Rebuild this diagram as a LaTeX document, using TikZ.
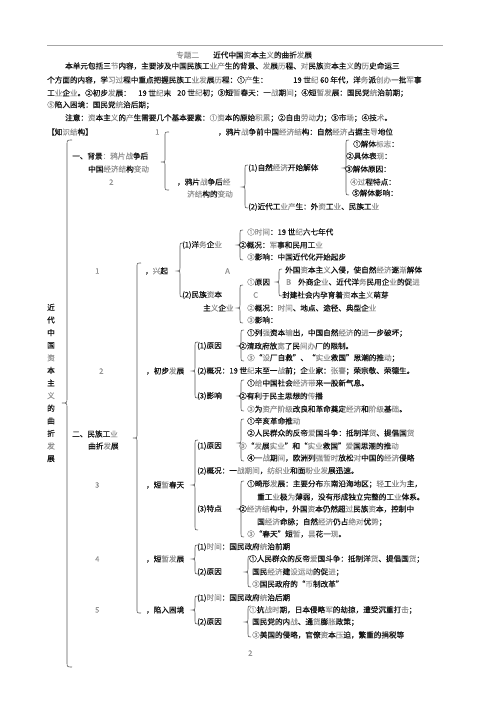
\documentclass[tikz,border=0pt]{standalone}
\usepackage{fontspec}
\setmainfont{Noto Sans CJK SC}[FakeBold=0.5]
\definecolor{txtgray}{gray}{0.58}
\definecolor{txtblack}{gray}{0.08}
\definecolor{bracecol}{gray}{0.35}
\newcommand\G[1]{\textcolor{txtgray}{#1}}
\newcommand\mybrace[5]{%
  \draw[bracestyle] ({#1+#5},#2) .. controls (#1,#2) .. (#1,{#2+#5})
     -- (#1,{#3-#5}) .. controls (#1,#3) .. ({#1-#5},#3)
     .. controls (#1,#3) .. (#1,{#3+#5})
     -- (#1,{#4-#5}) .. controls (#1,#4) .. ({#1+#5},#4);}
\tikzset{
  txt/.style={anchor=west, inner sep=0pt, text=txtblack, font=\fontsize{7.6}{9}\selectfont},
  gtxt/.style={txt, text=txtgray},
  bracestyle/.style={draw=bracecol, line width=0.6pt},
  rulestyle/.style={draw=gray!70, line width=0.8pt}
}
\begin{document}
\begin{tikzpicture}[x=1pt,y=-1pt]
\fill[white] (0,0) rectangle (500,707);
\useasboundingbox (0,0) rectangle (500,707);
\coordinate (ruleL) at (47,45);
\coordinate (ruleR) at (443,45);
\draw[rulestyle] (ruleL) -- (ruleR);
% title and introduction
\node[gtxt] (ttl1) at (176,55) {专题二};
\node[txt] (ttl2) at (213,55) {近代中国\G{资}本主\G{义}的曲折\G{发}展};
\node[txt] (p1) at (65,66) {本单元包括三\G{节}内容，主要涉及中国民族工\G{业产}生的背景、\G{发}展\G{历}程、\G{对}民族\G{资}本主\G{义}的\G{历}史命运三};
\node[txt] (p2a) at (47,80) {个方面的内容，学\G{习过}程中重点把握民族工\G{业发}展\G{历}程：①\G{产}生：};
\node[txt] (p2b) at (293,80) {19 世\G{纪} 60 年代，洋\G{务}派\G{创办}一批\G{军}事};
\node[txt] (p3a) at (47,93) {工\G{业}企\G{业}。②初步\G{发}展：};
\node[txt] (p3b) at (138,93) {19 世\G{纪}末};
\node[txt] (p3c) at (177,93) {20 世\G{纪}初；③短\G{暂}春天：一\G{战}期\G{间}；④短\G{暂发}展：国民党\G{统}治前期；};
\node[txt] (p4) at (47,105) {\G{⑤}陷入困境：国民党\G{统}治后期；};
\node[txt] (p5) at (65,118) {注意：\G{资}本主\G{义}的\G{产}生需要几个基本要素：\G{①资}本的原始\G{积累}；②自由\G{劳动}力；③市\G{场}；④技\G{术}。};
\node[txt] (kh) at (47,132) {【知\G{识结}构】};
% left vertical title and big brace
\node[txt, anchor=center, align=center, font=\fontsize{7.6}{12.6}\selectfont] (vt) at (51,383) {近\\代\\中\\国\\\G{资}\\本\\主\\\G{义}\\的\\曲\\折\\\G{发}\\展};
\mybrace{67}{140}{403}{667}{5}
% part one: background
\node[txt] (bg1) at (72,156) {一、背景\G{：鸦片战}争后};
\node[txt] (bg2) at (88,169) {中国\G{经济结}构\G{变动}};
\node[gtxt] (bgn) at (109,182) {2};
\mybrace{165}{132}{162}{190}{4}
\node[gtxt] (n1) at (155,132) {1};
\node[txt] (b1) at (218,132) {，鸦片\G{战}争前中国\G{经济结}构：自然\G{经济}占据主\G{导}地位};
\node[txt] (b2a) at (177,182) {，鸦片\G{战}争后\G{经}};
\node[txt] (b2b) at (187,194) {\G{济结}构的\G{变动}};
\mybrace{245}{165}{187}{208}{3}
\node[txt] (c1) at (248,168) {(1)自然\G{经济}开始解体};
\node[txt] (c2) at (248,207) {(2)近代工\G{业产}生：外\G{资}工\G{业}、民族工\G{业}};
\mybrace{346}{140}{168}{195}{3}
\node[txt] (d1) at (353,144) {①解体\G{标志}：};
\node[txt] (d2) at (346,156) {②具体表\G{现}：};
\node[txt] (d3) at (345,169) {③解体原因：};
\node[txt] (d4) at (350,182) {\G{④过}程特点：};
\node[txt] (d5) at (352,193) {⑤解体影响：};
% part two
\node[txt] (pt2a) at (72,434) {二、民族工\G{业}};
\node[txt] (pt2b) at (88,446) {曲折\G{发}展};
\mybrace{137}{263}{438}{613}{4}
% 1 rise
\node[gtxt] (s1n) at (95,271) {1};
\node[txt] (s1) at (145,271) {，\G{兴}起};
\mybrace{180}{243}{271}{297}{3}
\node[txt] (s1a) at (182,245) {(1)洋\G{务}企\G{业}};
\node[txt] (s1b1) at (182,295) {(2)民族\G{资}本};
\node[txt] (s1b2) at (203,308) {主\G{义}企\G{业}};
\node[gtxt] (lA) at (225,271) {A};
\mybrace{240}{230}{245}{260}{3}
\node[txt] (y1) at (247,232) {\G{①时间}：19 世\G{纪}六七年代};
\node[txt] (y2) at (239,245) {②概况：\G{军}事和民用工\G{业}};
\node[txt] (y3) at (247,257) {\G{③}影响：中国近代化开始起步};
\mybrace{240}{285}{308}{323}{3}
\node[txt] (m1) at (247,282) {\G{①}原因};
\node[gtxt] (lC) at (253,295) {C};
\node[txt] (m2) at (247,308) {\G{②}概况：\G{时间}、地点、途径、典型企\G{业}};
\node[txt] (m3) at (247,320) {\G{③}影响：};
\mybrace{279}{269}{282}{296}{3}
\node[gtxt] (lB) at (286,282) {B};
\node[txt] (r1) at (285,270) {外国\G{资}本主\G{义}入侵，使自然\G{经济}逐\G{渐}解体};
\node[txt] (r2) at (298,282) {外商企\G{业}、近代洋\G{务}民用企\G{业}的促\G{进}};
\node[txt] (r3) at (282,295) {封建社会内孕育着\G{资}本主\G{义}萌芽};
% 2 initial development
\node[gtxt] (s2n) at (99,371) {2};
\node[txt] (s2) at (146,371) {，初步\G{发}展};
\mybrace{195}{342}{371}{398}{3}
\node[txt] (s2a) at (197,346) {(1)原因};
\node[txt] (s2b) at (197,371) {(2)概况：19 世\G{纪}末至一\G{战}前；企\G{业}家：\G{张謇}；荣宗敬、荣德生。};
\node[txt] (s2c) at (197,396) {(3)影响};
\mybrace{241}{330}{346}{361}{3}
\node[txt] (e1) at (247,333) {①列\G{强}资本\G{输}出，中国自然\G{经济}的\G{进}一步破坏；};
\node[txt] (e2) at (239,346) {②清政府放\G{宽}了民\G{间办}厂的限制。};
\node[txt] (e3) at (247,358) {\G{③}“\G{设}厂自救”、“\G{实业}救国”思潮的推\G{动}；};
\mybrace{241}{380}{396}{411}{3}
\node[txt] (f1) at (247,383) {①\G{给}中国社会\G{经济带}来一股新气息。};
\node[txt] (f2) at (239,396) {②有利于民主思想的\G{传}播};
\node[txt] (f3) at (247,409) {\G{③}为\G{资产阶级}改良和革命奠定\G{经济}和\G{阶级}基\G{础}。};
% 3 short spring
\node[gtxt] (s3n) at (95,485) {3};
\node[txt] (s3) at (146,485) {，短\G{暂}春天};
\mybrace{195}{440}{485}{530}{3}
\node[txt] (s3a) at (197,446) {(1)原因};
\node[txt] (s3b) at (197,471) {(2)概况：一\G{战期间}，\G{纺织业}和面\G{粉业发}展迅速。};
\node[txt] (s3c) at (197,509) {(3)特点};
\mybrace{241}{419}{443}{461}{3}
\node[txt] (g1) at (247,421) {①辛亥革命推\G{动}};
\node[txt] (g2) at (247,433) {②人民群众的反帝\G{爱}国斗争：抵制洋\G{货}、提倡国\G{货}};
\node[txt] (g3) at (239,446) {\G{③}“\G{发}展\G{实业}”和“\G{实业}救国”\G{爱}国思潮的推\G{动}};
\node[txt] (g4) at (247,458) {④一\G{战}期\G{间}，欧洲列\G{强暂时}放松\G{对}中国的\G{经济}侵略};
\mybrace{241}{481}{509}{537}{3}
\node[txt] (h1) at (247,484) {①畸形\G{发}展：主要分布\G{东}南沿海地区；\G{轻}工\G{业为}主，};
\node[txt] (h1b) at (257,497) {重工\G{业}极\G{为}薄弱，没有形成独立完整的工\G{业}体系。};
\node[txt] (h2) at (239,509) {②\G{经济结}构中，外国\G{资}本仍然超\G{过}民族\G{资}本，控制中};
\node[txt] (h2b) at (257,522) {国\G{经济}命脉；自然\G{经济}仍占\G{绝对}优\G{势}；};
\node[txt] (h3) at (247,534) {\G{③}“春天”短\G{暂}，\G{昙}花一\G{现}。};
% 4 short development
\node[gtxt] (s4n) at (95,559) {4};
\node[txt] (s4) at (146,559) {，短\G{暂发}展};
\mybrace{195}{545}{559}{574}{3}
\node[txt] (s4a) at (197,547) {(1)\G{时间}：国民政府\G{统}治前期};
\node[txt] (s4b) at (197,572) {(2)原因};
\mybrace{248}{556}{572}{587}{3}
\node[txt] (k1) at (249,559) {①人民群众的反帝\G{爱}国斗争：抵制洋\G{货}、提倡国\G{货}；};
\node[txt] (k2) at (252,572) {国民\G{经济}建\G{设运动}的促\G{进}；};
\node[txt] (k3) at (252,584) {\G{③}国民政府的“\G{币}制改革”};
% 5 difficulty
\node[gtxt] (s5n) at (95,610) {5};
\node[txt] (s5) at (146,610) {，陷入困境};
\mybrace{195}{596}{610}{624}{3}
\node[txt] (s5a) at (197,598) {(1)\G{时间}：国民政府\G{统}治后期};
\node[txt] (s5b) at (197,622) {(2)原因};
\mybrace{248}{606}{622}{637}{3}
\node[txt] (q1) at (249,610) {\G{①}抗\G{战时}期，日本侵略\G{军}的劫掠，遭受沉重打\G{击}；};
\node[txt] (q2) at (252,622) {国民党的内\G{战}、通\G{货}膨\G{胀}政策；};
\node[txt] (q3) at (252,635) {\G{③}美国的侵略，官僚\G{资}本\G{压}迫，繁重的捐税等};
\node[gtxt] (pg) at (248,653) {2};
\end{tikzpicture}
\end{document}
